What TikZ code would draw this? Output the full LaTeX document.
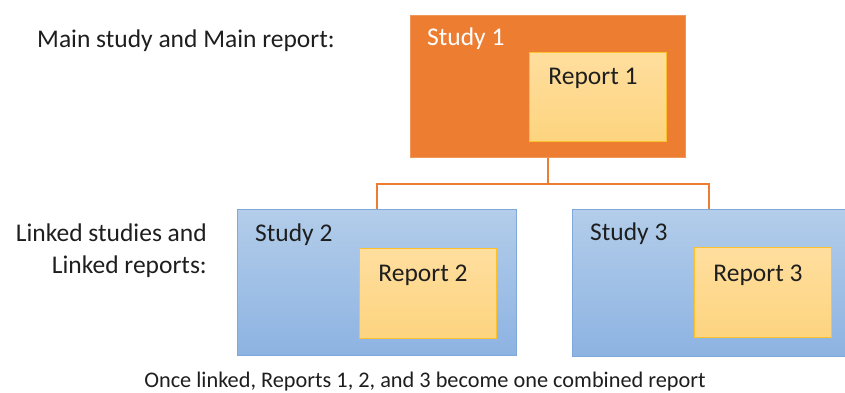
\documentclass[tikz,border=0pt]{standalone}
\usepackage{fontspec}
\setmainfont{Carlito}
\definecolor{studyorange}{HTML}{ED7D31}
\definecolor{studyblueA}{HTML}{B3CDEA}
\definecolor{studyblueB}{HTML}{8DB3E2}
\definecolor{studyedge}{HTML}{7FA8DA}
\definecolor{reportA}{HTML}{FFDE9E}
\definecolor{reportB}{HTML}{FDD47F}
\definecolor{reportedge}{HTML}{FBC12E}
\definecolor{inktext}{HTML}{1E1E1E}
\tikzset{
  mainstudy/.style={draw=studyorange!80!white, fill=studyorange, line width=0.8pt,
    anchor=north west, inner sep=0pt},
  linkstudy/.style={draw=studyedge, top color=studyblueA, bottom color=studyblueB,
    line width=0.8pt, anchor=north west, inner sep=0pt},
  reportbox/.style={draw=reportedge, top color=reportA, bottom color=reportB,
    line width=0.8pt, anchor=north west, inner sep=0pt},
  boxtext/.style={font=\fontsize{25.5}{30}\selectfont, text=inktext, inner sep=0pt},
  link/.style={draw=studyorange, line width=2.2pt}
}
\begin{document}
\begin{tikzpicture}[x=1pt,y=-1pt]
\useasboundingbox (0,0) rectangle (845,393);
% Main study
\node[mainstudy, minimum width=275pt, minimum height=142pt] (s1) at (410,15) {};
\node[reportbox, minimum width=137pt, minimum height=89pt] (r1) at (529,52) {};
\node[boxtext, text=white, anchor=west] (s1t) at (427,39) {Study 1};
\node[boxtext] (r1t) at (593,78) {Report 1};
% Linked studies
\node[linkstudy, minimum width=279pt, minimum height=146pt] (s2) at (237,209) {};
\node[reportbox, minimum width=137pt, minimum height=90pt] (r2) at (359,248) {};
\node[boxtext, anchor=west] (s2t) at (255,235) {Study 2};
\node[boxtext] (r2t) at (423,275) {Report 2};
\node[linkstudy, minimum width=273pt, minimum height=147pt] (s3) at (572,209) {};
\node[reportbox, minimum width=137pt, minimum height=90pt] (r3) at (694,247) {};
\node[boxtext, anchor=west] (s3t) at (590,234) {Study 3};
\node[boxtext] (r3t) at (758,275) {Report 3};
% Links
\draw[link] (s1.south) -- ++(0,26) -| (s2.north);
\draw[link] (s1.south) -- ++(0,26) -| (s3.north);
% Labels
\node[boxtext, anchor=west] (mainlbl) at (37,41) {Main study and Main report:};
\node[boxtext, anchor=east, align=right, font=\fontsize{25.5}{32}\selectfont] (linklbl) at (207,251)
  {Linked studies and\\Linked reports:};
\node[boxtext, font=\fontsize{22.3}{26}\selectfont] (caption) at (425,382)
  {Once linked, Reports 1, 2, and 3 become one combined report};
\end{tikzpicture}
\end{document}
